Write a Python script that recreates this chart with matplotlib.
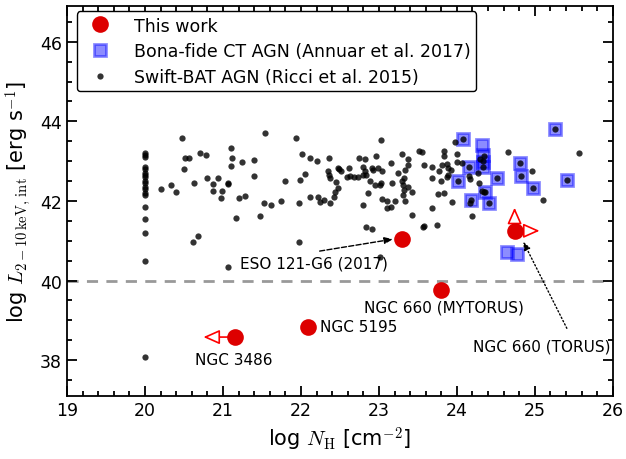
import matplotlib
matplotlib.use("Agg")
import matplotlib.pyplot as plt
from matplotlib.ticker import MultipleLocator

plt.rcParams['font.family'] = ['DejaVu Sans']
plt.rcParams['mathtext.fontset'] = 'cm'

# ---- Swift-BAT AGN (Ricci et al. 2015) ----
bat_nh = [20.0]*19 + [
    20.48, 20.20, 20.34, 20.40, 20.50, 20.51, 20.56, 20.63, 20.71, 20.78, 20.80, 20.87, 20.87, 20.94,
    20.99, 20.97, 21.06, 21.07, 21.10, 21.11, 21.10, 21.25, 21.21, 21.28, 21.17, 20.61, 20.68, 21.40,
    21.40, 21.06, 21.98, 22.84, 22.91, 23.02, 23.57,
    21.54, 21.94, 21.53, 21.62, 21.74, 21.79, 21.48, 22.02, 22.11, 22.20, 22.36, 22.05, 21.99, 21.98,
    22.12, 22.22, 22.25, 22.30, 22.37, 22.42, 22.44, 22.48, 22.45, 22.35, 22.37, 22.36, 22.47, 22.51,
    22.49, 22.62, 22.59, 22.63, 22.68, 22.73, 22.74, 22.82, 22.80, 22.82, 22.80, 22.84, 22.86, 22.80,
    23.03, 22.96, 22.91, 22.93, 22.99, 23.04, 22.88, 22.95, 23.01, 23.03, 23.16, 23.29, 23.37, 23.25,
    23.33, 23.37, 23.17, 23.29, 23.32, 23.31, 23.32, 23.31, 23.37, 23.42, 23.04, 23.10, 23.20, 23.33,
    23.10, 23.16, 23.42, 23.52, 23.55, 23.58, 23.68, 23.68, 23.84, 23.84, 23.77, 23.81, 23.87, 23.89,
    23.92, 23.88, 23.87, 23.97, 24.00, 24.00, 24.06, 23.80, 23.76, 23.83, 23.68, 23.94, 23.58, 23.74,
    24.19,
    24.15, 24.17, 24.27, 24.28, 24.32, 24.35, 24.17, 24.30, 24.35, 24.66, 24.96, 25.11, 25.56,
    24.08, 24.15, 24.02, 24.51, 24.36, 24.18, 24.41, 24.81, 24.82, 24.97, 25.26, 25.41, 24.34, 24.34,
]
bat_lx = [43.20, 43.15, 43.10, 42.85, 42.80, 42.70, 42.65, 42.60, 42.50, 42.45, 42.35, 42.30, 42.20,
          42.15, 41.85, 41.55, 41.20, 40.50, 38.08] + [
    43.59, 42.30, 42.40, 42.23, 42.80, 43.07, 43.07, 42.44, 43.20, 43.16, 42.58, 42.42, 42.26, 42.58,
    42.25, 42.07, 42.42, 42.44, 43.33, 43.07, 42.89, 42.97, 42.07, 42.13, 41.56, 40.98, 41.12, 43.03,
    42.63, 40.33, 40.98, 41.35, 41.29, 40.60, 41.35,
    43.70, 43.58, 41.96, 41.90, 42.01, 42.50, 41.62, 43.18, 43.07, 43.00, 43.07, 42.67, 42.53, 41.96,
    42.11, 42.11, 41.97, 42.03, 41.96, 42.11, 42.23, 42.33, 42.47, 42.74, 42.57, 42.65, 42.82, 42.75,
    42.80, 42.82, 42.59, 42.63, 42.61, 42.59, 43.07, 43.05, 42.86, 42.74, 42.65, 42.65, 42.19, 41.90,
    43.53, 43.13, 42.82, 42.78, 42.82, 42.74, 42.49, 42.39, 42.40, 42.44, 42.95, 43.17, 43.06, 42.69,
    42.78, 42.90, 42.44, 42.49, 42.57, 42.39, 42.28, 42.15, 42.36, 42.23, 42.05, 42.00, 42.00, 42.00,
    41.82, 41.86, 41.65, 43.26, 43.22, 42.91, 42.85, 42.58, 43.26, 43.14, 42.74, 42.91, 42.92, 42.82,
    42.78, 42.65, 42.61, 43.47, 43.17, 42.99, 42.95, 42.50, 42.17, 42.19, 41.82, 41.98, 41.38, 41.40,
    41.61,
    42.62, 42.55, 42.70, 42.46, 42.26, 42.23, 41.96, 43.05, 43.12, 43.23, 42.74, 42.03, 43.20,
    43.56, 42.86, 42.49, 42.57, 42.23, 42.03, 41.94, 42.95, 42.63, 42.32, 43.80, 42.53, 42.86, 43.00,
]

# ---- Bona-fide CT AGN (Annuar et al. 2017) ----
ct_nh = [24.08, 24.32, 24.34, 24.34, 24.34, 24.15, 24.02, 24.51, 24.36, 24.18, 24.41, 24.81, 24.82,
         24.97, 25.26, 25.41, 24.64, 24.77]
ct_lx = [43.56, 43.41, 43.16, 42.99, 42.86, 42.85, 42.49, 42.57, 42.23, 42.03, 41.94, 42.95, 42.63,
         42.32, 43.80, 42.53, 40.72, 40.67]

# ---- This work ----
tw_names = ["NGC 3486", "NGC 5195", "NGC 660 (MYTORUS)", "ESO 121-G6 (2017)", "NGC 660 (TORUS)"]
tw_nh = [21.15, 22.09, 23.79, 23.29, 24.74]
tw_lx = [38.58, 38.83, 39.76, 41.04, 41.25]

fig = plt.figure(figsize=(6.26, 4.60), dpi=100)
ax = fig.add_axes([0.107, 0.137, 0.872, 0.848])

ax.axhline(40, color='#999999', lw=2, ls=(0, (4, 3)), zorder=1)

ax.plot(bat_nh, bat_lx, 'o', color='black', alpha=0.8, ms=4.5, mew=0, zorder=3,
        label='Swift-BAT AGN (Ricci et al. 2015)')
ax.plot(ct_nh, ct_lx, 's', mfc='blue', mec='blue', alpha=0.45, ms=9, mew=2, zorder=2,
        label='Bona-fide CT AGN (Annuar et al. 2017)')

# limit arrows
arrow_kw = dict(arrowstyle='-|>,head_width=0.4,head_length=0.9', fc='white', ec='red', lw=1.2,
                shrinkA=0, shrinkB=0, mutation_scale=11)
ax.annotate('', xy=(tw_nh[0] - 0.40, tw_lx[0]), xytext=(tw_nh[0], tw_lx[0]), arrowprops=arrow_kw, zorder=4)
ax.annotate('', xy=(tw_nh[4], tw_lx[4] + 0.58), xytext=(tw_nh[4], tw_lx[4]), arrowprops=arrow_kw, zorder=4)
ax.annotate('', xy=(tw_nh[4] + 0.32, tw_lx[4]), xytext=(tw_nh[4], tw_lx[4]), arrowprops=arrow_kw, zorder=4)

ax.plot(tw_nh, tw_lx, 'o', color='#dd0000', ms=12, mew=0, zorder=5, label='This work')

# annotations
ax.text(21.14, 38.02, tw_names[0], fontsize=11, ha='center', va='center')
ax.text(22.24, 38.84, tw_names[1], fontsize=11, ha='left', va='center')
ax.text(23.83, 39.33, tw_names[2], fontsize=11, ha='center', va='center')
ax.text(21.22, 40.45, tw_names[3], fontsize=11, ha='left', va='center')
ax.text(25.09, 38.36, tw_names[4], fontsize=11, ha='center', va='center')
ax.annotate('', xy=(23.18, 41.04), xytext=(22.24, 40.74),
            arrowprops=dict(arrowstyle='-|>,head_width=0.2,head_length=0.5', color='black',
                            ls='--', lw=1, shrinkA=0, shrinkB=0, mutation_scale=10))
ax.annotate('', xy=(24.85, 40.98), xytext=(25.41, 38.80),
            arrowprops=dict(arrowstyle='-|>,head_width=0.2,head_length=0.5', color='black',
                            ls=':', lw=1, shrinkA=0, shrinkB=0, mutation_scale=10))

ax.set_xlim(19, 26)
ax.set_ylim(37.1, 46.9)
ax.xaxis.set_major_locator(MultipleLocator(1))
ax.xaxis.set_minor_locator(MultipleLocator(0.2))
ax.yaxis.set_major_locator(MultipleLocator(2))
ax.yaxis.set_minor_locator(MultipleLocator(0.5))
ax.tick_params(which='both', direction='in', top=True, right=True, labelsize=12.5)
ax.tick_params(which='major', length=7, width=1.3)
ax.tick_params(which='minor', length=3.5, width=1.3)
for s in ax.spines.values():
    s.set_linewidth(1.3)

ax.set_xlabel(r'log $N_{\rm H}$ [cm$^{-2}$]', fontsize=15)
ax.set_ylabel(r'log $L_{2-10\,\rm keV,\,int}$ [erg s$^{-1}$]', fontsize=15)

h, l = ax.get_legend_handles_labels()
order = [2, 1, 0]
leg = ax.legend([h[i] for i in order], [l[i] for i in order], loc='upper left', fontsize=12.5,
                frameon=True, framealpha=1, edgecolor='black', handletextpad=1.0,
                borderpad=0.3, labelspacing=0.45, borderaxespad=0.2,
                bbox_to_anchor=(0.012, 0.995))
leg.get_frame().set_linewidth(1.0)

fig.savefig('out.png', dpi=100)
